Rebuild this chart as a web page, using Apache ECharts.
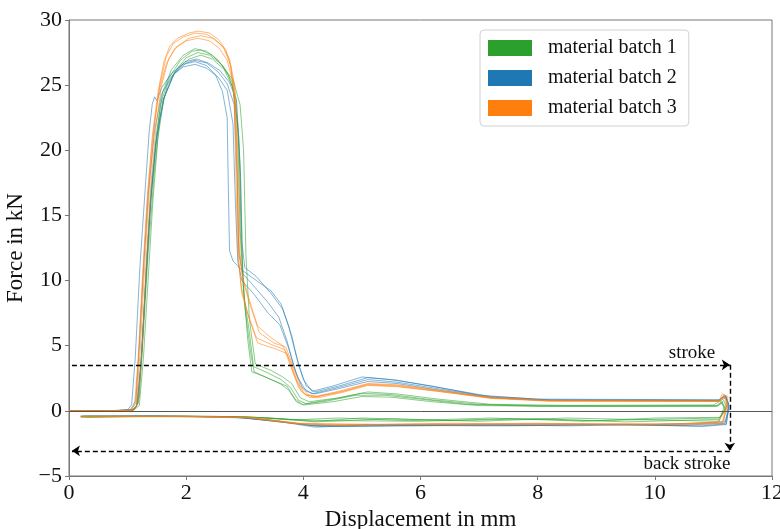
<!DOCTYPE html>
<html>
<head>
<meta charset="utf-8">
<script src="https://cdn.jsdelivr.net/npm/echarts@6/dist/echarts.min.js"></script>
<style>
  html, body { margin: 0; padding: 0; background: #fff; }
  #myChart { width: 780px; height: 529px; }
</style>
</head>
<body>
<div id="myChart"></div>
<script>
// data: [displacement mm, force kN], forward stroke then back stroke
const batchNames = ['material batch 1', 'material batch 2', 'material batch 3'];
const batchColors = ['#2ca02c', '#1f77b4', '#ff7f0e'];

const batch1 = [
  [[0,0],[0.6,0],[1.05,0.05],[1.15,0.3],[1.22,3],[1.3,9],[1.38,15],[1.47,20],[1.56,23.5],[1.7,25.5],[1.9,26.9],[2.1,27.6],[2.25,27.7],[2.45,27.3],[2.62,26.5],[2.78,25.3],[2.88,22],[2.92,14],[2.98,9],[3.08,6],[3.15,3.4],[3.4,2.9],[3.62,2.4],[3.78,1.8],[3.92,0.8],[4.05,0.55],[4.5,0.9],[5.0,1.35],[5.5,1.25],[6.2,0.85],[7.0,0.5],[8.0,0.4],[9.5,0.38],[11.05,0.4],[11.15,0.7],[11.2,0.2],[11.1,-0.55],[10.5,-0.6],[9,-0.75],[7.5,-0.6],[6,-0.8],[4.5,-0.75],[4,-0.7],[3.2,-0.5],[2.5,-0.42],[1.0,-0.42],[0.25,-0.45]],
  [[0,0],[0.6,0],[1.1,0.05],[1.2,0.4],[1.27,4],[1.35,10],[1.43,16],[1.52,21],[1.62,24],[1.8,26],[2.0,27.1],[2.2,27.5],[2.4,27.3],[2.6,26.6],[2.8,25.4],[2.92,23.5],[2.98,20],[3.02,12],[3.08,7],[3.18,3.6],[3.45,3.1],[3.65,2.6],[3.8,2.1],[3.95,1.0],[4.1,0.7],[4.6,1.0],[5.1,1.45],[5.6,1.3],[6.3,0.9],[7.2,0.5],[8.5,0.42],[11.0,0.45],[11.12,0.75],[11.18,0.3],[11.1,-0.8],[10,-0.7],[8.5,-0.55],[7,-0.8],[5.5,-0.6],[4.2,-0.85],[3.6,-0.6],[3,-0.45],[1.5,-0.4],[0.3,-0.48]],
  [[0,0],[0.7,0],[1.12,0.1],[1.2,1],[1.27,6],[1.35,12],[1.45,18],[1.55,22.5],[1.68,25],[1.85,26.3],[2.05,27],[2.25,27.3],[2.45,27],[2.65,26.2],[2.8,24.8],[2.9,21],[2.94,13],[3.0,8],[3.1,4.5],[3.16,3.0],[3.4,2.5],[3.6,2.1],[3.75,1.6],[3.88,0.7],[4.0,0.45],[4.5,0.7],[5.0,1.1],[5.5,1.05],[6.2,0.7],[7.0,0.4],[8.5,0.35],[11.05,0.35],[11.15,0.6],[11.2,0.1],[11.1,-0.65],[9.5,-0.85],[8,-0.6],[6.5,-0.75],[5,-0.55],[4.2,-0.8],[3.4,-0.55],[2.6,-0.45],[1.2,-0.45],[0.2,-0.5]],
  [[0,0],[0.6,0],[1.08,0.05],[1.17,0.5],[1.24,4],[1.32,11],[1.4,17],[1.5,21.5],[1.6,24.5],[1.75,26.2],[1.95,27.3],[2.15,27.8],[2.35,27.6],[2.55,26.9],[2.72,25.8],[2.85,24],[2.93,18],[2.97,10],[3.05,5.5],[3.12,3.0],[3.35,2.6],[3.55,2.2],[3.72,1.9],[3.86,0.9],[3.98,0.5],[4.4,0.75],[4.9,1.2],[5.4,1.2],[6.0,0.9],[6.8,0.5],[8,0.35],[11.08,0.38],[11.18,0.8],[11.22,0.3],[11.12,-0.5],[10,-0.55],[8.8,-0.8],[7.2,-0.55],[5.8,-0.75],[4.6,-0.55],[3.8,-0.7],[3.0,-0.45],[1.8,-0.4],[0.2,-0.42]]
];

const batch2 = [
  [[0,0],[0.6,0],[1.0,0.05],[1.07,0.5],[1.13,4],[1.21,11],[1.3,17],[1.37,21.5],[1.42,23.5],[1.46,24.1],[1.5,23.8],[1.58,24.8],[1.75,25.9],[1.95,26.6],[2.15,26.8],[2.35,26.5],[2.5,25.8],[2.62,24.5],[2.7,22.5],[2.72,17],[2.74,12.3],[2.8,11.5],[2.95,10.8],[3.2,10],[3.45,9.2],[3.62,8.2],[3.75,6.5],[3.88,4.2],[4.0,2.4],[4.15,1.5],[4.5,1.9],[5.0,2.6],[5.5,2.4],[6.2,1.9],[7.0,1.2],[8,0.9],[11.1,0.85],[11.22,1.1],[11.25,0.2],[11.2,-0.95],[10.5,-1.1],[8,-1.0],[6,-1.15],[4.3,-1.2],[3.8,-0.95],[3,-0.55],[2,-0.42],[0.2,-0.4]],
  [[0,0],[0.7,0],[1.1,0.05],[1.18,0.6],[1.25,5],[1.32,11],[1.4,16.5],[1.5,21],[1.62,24],[1.8,25.9],[2.0,26.7],[2.15,26.9],[2.35,26.7],[2.55,26],[2.7,25.1],[2.82,23.5],[2.87,18],[2.9,12],[2.97,10.5],[3.15,9.6],[3.4,8.3],[3.58,7.2],[3.72,5.4],[3.85,3.2],[3.98,1.8],[4.15,1.3],[4.6,1.8],[5.1,2.4],[5.6,2.2],[6.3,1.7],[7.2,1.05],[8.2,0.82],[11.1,0.8],[11.2,1.2],[11.27,0.4],[11.22,-1.0],[10.8,-1.15],[9,-1.05],[7,-1.15],[5,-1.1],[4.2,-1.25],[3.7,-0.9],[2.9,-0.5],[1.5,-0.42],[0.25,-0.4]],
  [[0,0],[0.6,0],[1.05,0.08],[1.14,0.8],[1.2,5],[1.28,11.5],[1.36,17],[1.46,21.5],[1.58,24.3],[1.75,25.7],[1.95,26.4],[2.15,26.6],[2.35,26.3],[2.55,25.6],[2.7,24.6],[2.8,22],[2.84,16],[2.88,11.5],[2.95,10],[3.15,9.0],[3.4,7.5],[3.6,6.6],[3.75,4.8],[3.9,2.6],[4.05,1.5],[4.2,1.3],[4.6,1.7],[5.1,2.25],[5.6,2.1],[6.3,1.6],[7.2,1.0],[8.2,0.8],[11.12,0.78],[11.22,1.05],[11.27,0.1],[11.2,-0.85],[10,-1.05],[8.5,-1.15],[6.5,-1.05],[4.8,-1.2],[4.1,-1.1],[3.5,-0.75],[2.8,-0.45],[1.4,-0.4],[0.2,-0.42]],
  [[0,0],[0.6,0],[1.08,0.05],[1.16,0.4],[1.23,4],[1.31,10],[1.39,16],[1.48,20.5],[1.6,23.8],[1.78,25.8],[1.98,26.8],[2.18,27.0],[2.38,26.7],[2.58,26.1],[2.74,25.2],[2.86,23.8],[2.92,19],[2.95,13],[3.0,11],[3.2,10.3],[3.45,9.0],[3.65,7.8],[3.8,5.8],[3.92,3.5],[4.05,1.9],[4.2,1.45],[4.6,1.9],[5.1,2.55],[5.6,2.35],[6.3,1.8],[7.2,1.1],[8.2,0.85],[11.08,0.82],[11.2,1.15],[11.26,0.6],[11.22,-1.05],[10.8,-1.2],[9.5,-1.05],[7.5,-1.15],[5.5,-1.05],[4.2,-1.15],[3.6,-0.8],[2.7,-0.45],[1.2,-0.4],[0.22,-0.42]]
];

const batch3 = [
  [[0,0],[0.6,0],[1.05,0.05],[1.12,0.5],[1.18,4],[1.25,10],[1.33,16],[1.42,21],[1.52,24.5],[1.62,26.8],[1.72,28.0],[1.85,28.6],[2.05,29.0],[2.2,29.15],[2.4,29.0],[2.55,28.5],[2.68,27.7],[2.76,26.5],[2.82,24],[2.85,18],[2.88,12],[2.94,9.5],[3.05,7.5],[3.2,5.6],[3.45,5.1],[3.68,4.7],[3.8,3.2],[3.92,1.8],[4.05,1.2],[4.2,1.1],[4.6,1.5],[5.1,2.1],[5.6,2.0],[6.3,1.6],[7.2,1.05],[8.2,0.8],[11.1,0.78],[11.15,1.3],[11.25,1.1],[11.22,0.1],[11.05,-0.95],[10,-1.0],[8,-1.05],[6,-1.0],[4.5,-1.1],[3.8,-0.95],[3.0,-0.5],[2.0,-0.42],[0.2,-0.45]],
  [[0,0],[0.7,0],[1.08,0.05],[1.15,0.4],[1.22,5],[1.29,11],[1.37,17],[1.46,22],[1.55,25],[1.66,27.2],[1.78,28.2],[1.95,28.7],[2.15,29.0],[2.35,28.9],[2.5,28.5],[2.65,27.8],[2.75,26.6],[2.83,24.5],[2.87,19],[2.9,11.5],[2.95,9],[3.08,7],[3.22,5.2],[3.5,4.8],[3.72,4.4],[3.84,2.8],[3.96,1.5],[4.1,1.05],[4.25,1.0],[4.7,1.45],[5.1,1.95],[5.6,1.85],[6.3,1.5],[7.2,1.0],[8.2,0.75],[11.1,0.72],[11.18,1.25],[11.23,0.5],[11.15,-0.9],[10.5,-1.05],[8.5,-1.0],[6.5,-1.05],[4.8,-1.05],[4.0,-1.0],[3.2,-0.55],[2.2,-0.42],[0.25,-0.42]],
  [[0,0],[0.6,0],[1.1,0.05],[1.18,0.6],[1.25,5],[1.32,11.5],[1.4,17.5],[1.49,22],[1.58,25],[1.7,27],[1.85,28],[2.05,28.6],[2.25,28.8],[2.45,28.6],[2.62,28],[2.74,27],[2.83,25],[2.88,20],[2.92,12],[2.97,10],[3.1,8],[3.25,6],[3.5,5.2],[3.7,4.9],[3.82,3.5],[3.95,1.9],[4.08,1.25],[4.25,1.1],[4.7,1.55],[5.1,2.05],[5.6,1.95],[6.3,1.55],[7.2,1.0],[8.2,0.78],[11.12,0.75],[11.2,1.2],[11.24,0.3],[11.15,-1.0],[10,-1.05],[8,-0.95],[6,-1.05],[4.6,-1.0],[3.9,-0.95],[3.0,-0.5],[1.6,-0.42],[0.2,-0.42]],
  [[0,0],[0.6,0],[1.06,0.05],[1.14,0.6],[1.2,5],[1.27,11],[1.35,17],[1.44,21.5],[1.54,24.6],[1.66,26.6],[1.8,27.8],[2.0,28.4],[2.2,28.6],[2.4,28.4],[2.57,27.8],[2.7,26.9],[2.8,25.2],[2.86,21],[2.89,13],[2.95,10.5],[3.08,8.5],[3.22,6.5],[3.45,5.6],[3.65,5.0],[3.78,3.8],[3.9,2.2],[4.02,1.3],[4.18,1.05],[4.6,1.4],[5.1,2.0],[5.6,1.9],[6.3,1.5],[7.2,0.95],[8.2,0.75],[11.08,0.72],[11.16,1.1],[11.22,0.8],[11.18,-0.8],[10.5,-1.0],[8.5,-1.05],[6.5,-0.95],[4.7,-1.1],[3.9,-1.0],[3.1,-0.5],[2.0,-0.42],[0.22,-0.45]]
];

// stroke / back stroke arrow path (data coords)
const strokeY = 3.53;
const backStrokeY = -3.07;
const strokeEndX = 11.28;
const strokeStartX = 0.05;

const xTicks = { min: 0, max: 12, step: 2 };
const yTicks = { min: -5, max: 30, step: 5 };

const font = 'Liberation Serif';
const ink = '#111';
const spine = '#777';

const myChart = echarts.init(document.getElementById('myChart'));

const series = [];
[batch1, batch2, batch3].forEach(function (batch, b) {
  batch.forEach(function (curve) {
    series.push({
      name: batchNames[b],
      type: 'line',
      data: curve,
      showSymbol: false,
      symbol: 'none',
      color: batchColors[b],
      lineStyle: { width: 1, opacity: 0.55 },
      silent: true
    });
  });
});

// zero line and the dashed stroke arrows
const dashed = { color: '#000', type: [5, 3], width: 1.4 };
series.push({
  type: 'line',
  data: [],
  silent: true,
  markLine: {
    silent: true,
    animation: false,
    symbolSize: 8,
    label: { show: false },
    data: [
      [{ coord: [0, 0], symbol: 'none', lineStyle: { color: '#555', type: 'solid', width: 1 } },
       { coord: [12, 0], symbol: 'none' }],
      [{ coord: [strokeStartX, strokeY], symbol: 'none', lineStyle: dashed },
       { coord: [strokeEndX, strokeY], symbol: 'arrow' }],
      [{ coord: [strokeEndX, strokeY], symbol: 'none', lineStyle: dashed },
       { coord: [strokeEndX, backStrokeY], symbol: 'arrow' }],
      [{ coord: [strokeEndX, backStrokeY], symbol: 'none', lineStyle: dashed },
       { coord: [strokeStartX, backStrokeY], symbol: 'arrow' }]
    ]
  }
});

const option = {
  animation: false,
  grid: {
    left: 69, right: 8, top: 20, bottom: 53,
    outerBoundsMode: 'none', containLabel: false,
    show: true, borderColor: spine, borderWidth: 1
  },
  legend: {
    left: 480,
    top: 30,
    orient: 'vertical',
    icon: 'rect',
    itemWidth: 44,
    itemHeight: 16,
    itemGap: 10,
    padding: [8, 12, 8, 8],
    borderColor: '#d0d0d0',
    borderWidth: 1,
    borderRadius: 4,
    backgroundColor: '#fff',
    textStyle: { fontFamily: font, fontSize: 20, color: ink, lineHeight: 20, padding: [0, 0, 0, 11] },
    data: batchNames.map(function (n, i) {
      return { name: n, icon: 'rect', itemStyle: { color: batchColors[i], opacity: 1 } };
    })
  },
  xAxis: {
    type: 'value',
    min: xTicks.min,
    max: xTicks.max,
    interval: xTicks.step,
    name: 'Displacement in mm',
    nameLocation: 'middle',
    nameGap: 31,
    nameTextStyle: { fontFamily: font, fontSize: 23, color: ink },
    axisLine: { show: true, onZero: false, lineStyle: { color: spine, width: 1 } },
    axisTick: { show: true, length: 4, lineStyle: { color: spine } },
    axisLabel: { fontFamily: font, fontSize: 22, color: ink, margin: 6 },
    splitLine: { show: false }
  },
  yAxis: {
    type: 'value',
    min: yTicks.min,
    max: yTicks.max,
    interval: yTicks.step,
    name: 'Force in kN',
    nameLocation: 'middle',
    nameGap: 34,
    nameTextStyle: { fontFamily: font, fontSize: 23, color: ink },
    axisLine: { show: true, onZero: false, lineStyle: { color: spine, width: 1 } },
    axisTick: { show: true, length: 4, lineStyle: { color: spine } },
    axisLabel: {
      fontFamily: font, fontSize: 22, color: ink, margin: 7,
      formatter: function (v) { return v < 0 ? '\u2212' + Math.abs(v) : String(v); }
    },
    splitLine: { show: false }
  },
  graphic: [
    { type: 'text', x: 692, y: 353, silent: true,
      style: { text: 'stroke', font: '19px "Liberation Serif"', fill: ink, align: 'center', verticalAlign: 'middle' } },
    { type: 'text', x: 687, y: 464, silent: true,
      style: { text: 'back stroke', font: '19px "Liberation Serif"', fill: ink, align: 'center', verticalAlign: 'middle' } }
  ],
  series: series
};

myChart.setOption(option);
</script>
</body>
</html>
